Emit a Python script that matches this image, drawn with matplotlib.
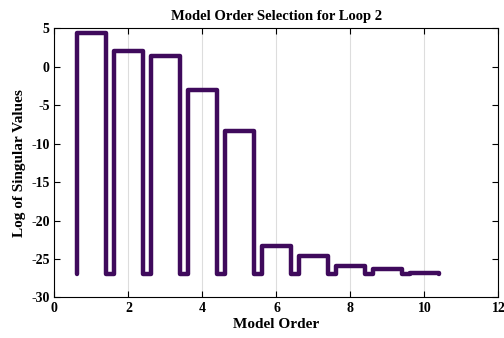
import matplotlib.pyplot as plt
import numpy as np

# singular values (log) per model order
orders = [1, 2, 3, 4, 5, 6, 7, 8, 9, 10]
log_sv = [4.35, 2.0, 1.45, -3.05, -8.4, -23.25, -24.55, -25.85, -26.35, -26.85]
base = -27.0
width = 0.8

plt.rcParams['font.family'] = ['Liberation Serif', 'DejaVu Serif']
plt.rcParams['font.weight'] = 'bold'
plt.rcParams['axes.unicode_minus'] = False

fig = plt.figure(figsize=(5.04, 3.38), dpi=100)
ax = fig.add_axes([0.108, 0.120, 0.881, 0.796])

# outline of the bars as one continuous line (MATLAB style)
xs, ys = [], []
for o, v in zip(orders, log_sv):
    xs += [o - width / 2, o - width / 2, o + width / 2, o + width / 2]
    ys += [base, v, v, base]
ax.plot(xs, ys, color='#3f0a5c', lw=3.2, solid_joinstyle='round',
        solid_capstyle='round', zorder=3)

ax.set_xlim(0, 12)
ax.set_ylim(-30, 5)
ax.set_xticks(np.arange(0, 13, 2))
ax.set_yticks(np.arange(-30, 6, 5))
ax.grid(axis='x', color='#dddddd', lw=0.8)
ax.tick_params(direction='in', top=True, right=True, labelsize=10, length=4)
for lab in ax.get_xticklabels() + ax.get_yticklabels():
    lab.set_fontweight('bold')

ax.set_title('Model Order Selection for Loop 2', fontsize=10.5, fontweight='bold', pad=6)
ax.set_xlabel('Model Order', fontsize=11, fontweight='bold', labelpad=2)
ax.set_ylabel('Log of Singular Values', fontsize=11, fontweight='bold', labelpad=4)

plt.savefig('out.png', dpi=100)
